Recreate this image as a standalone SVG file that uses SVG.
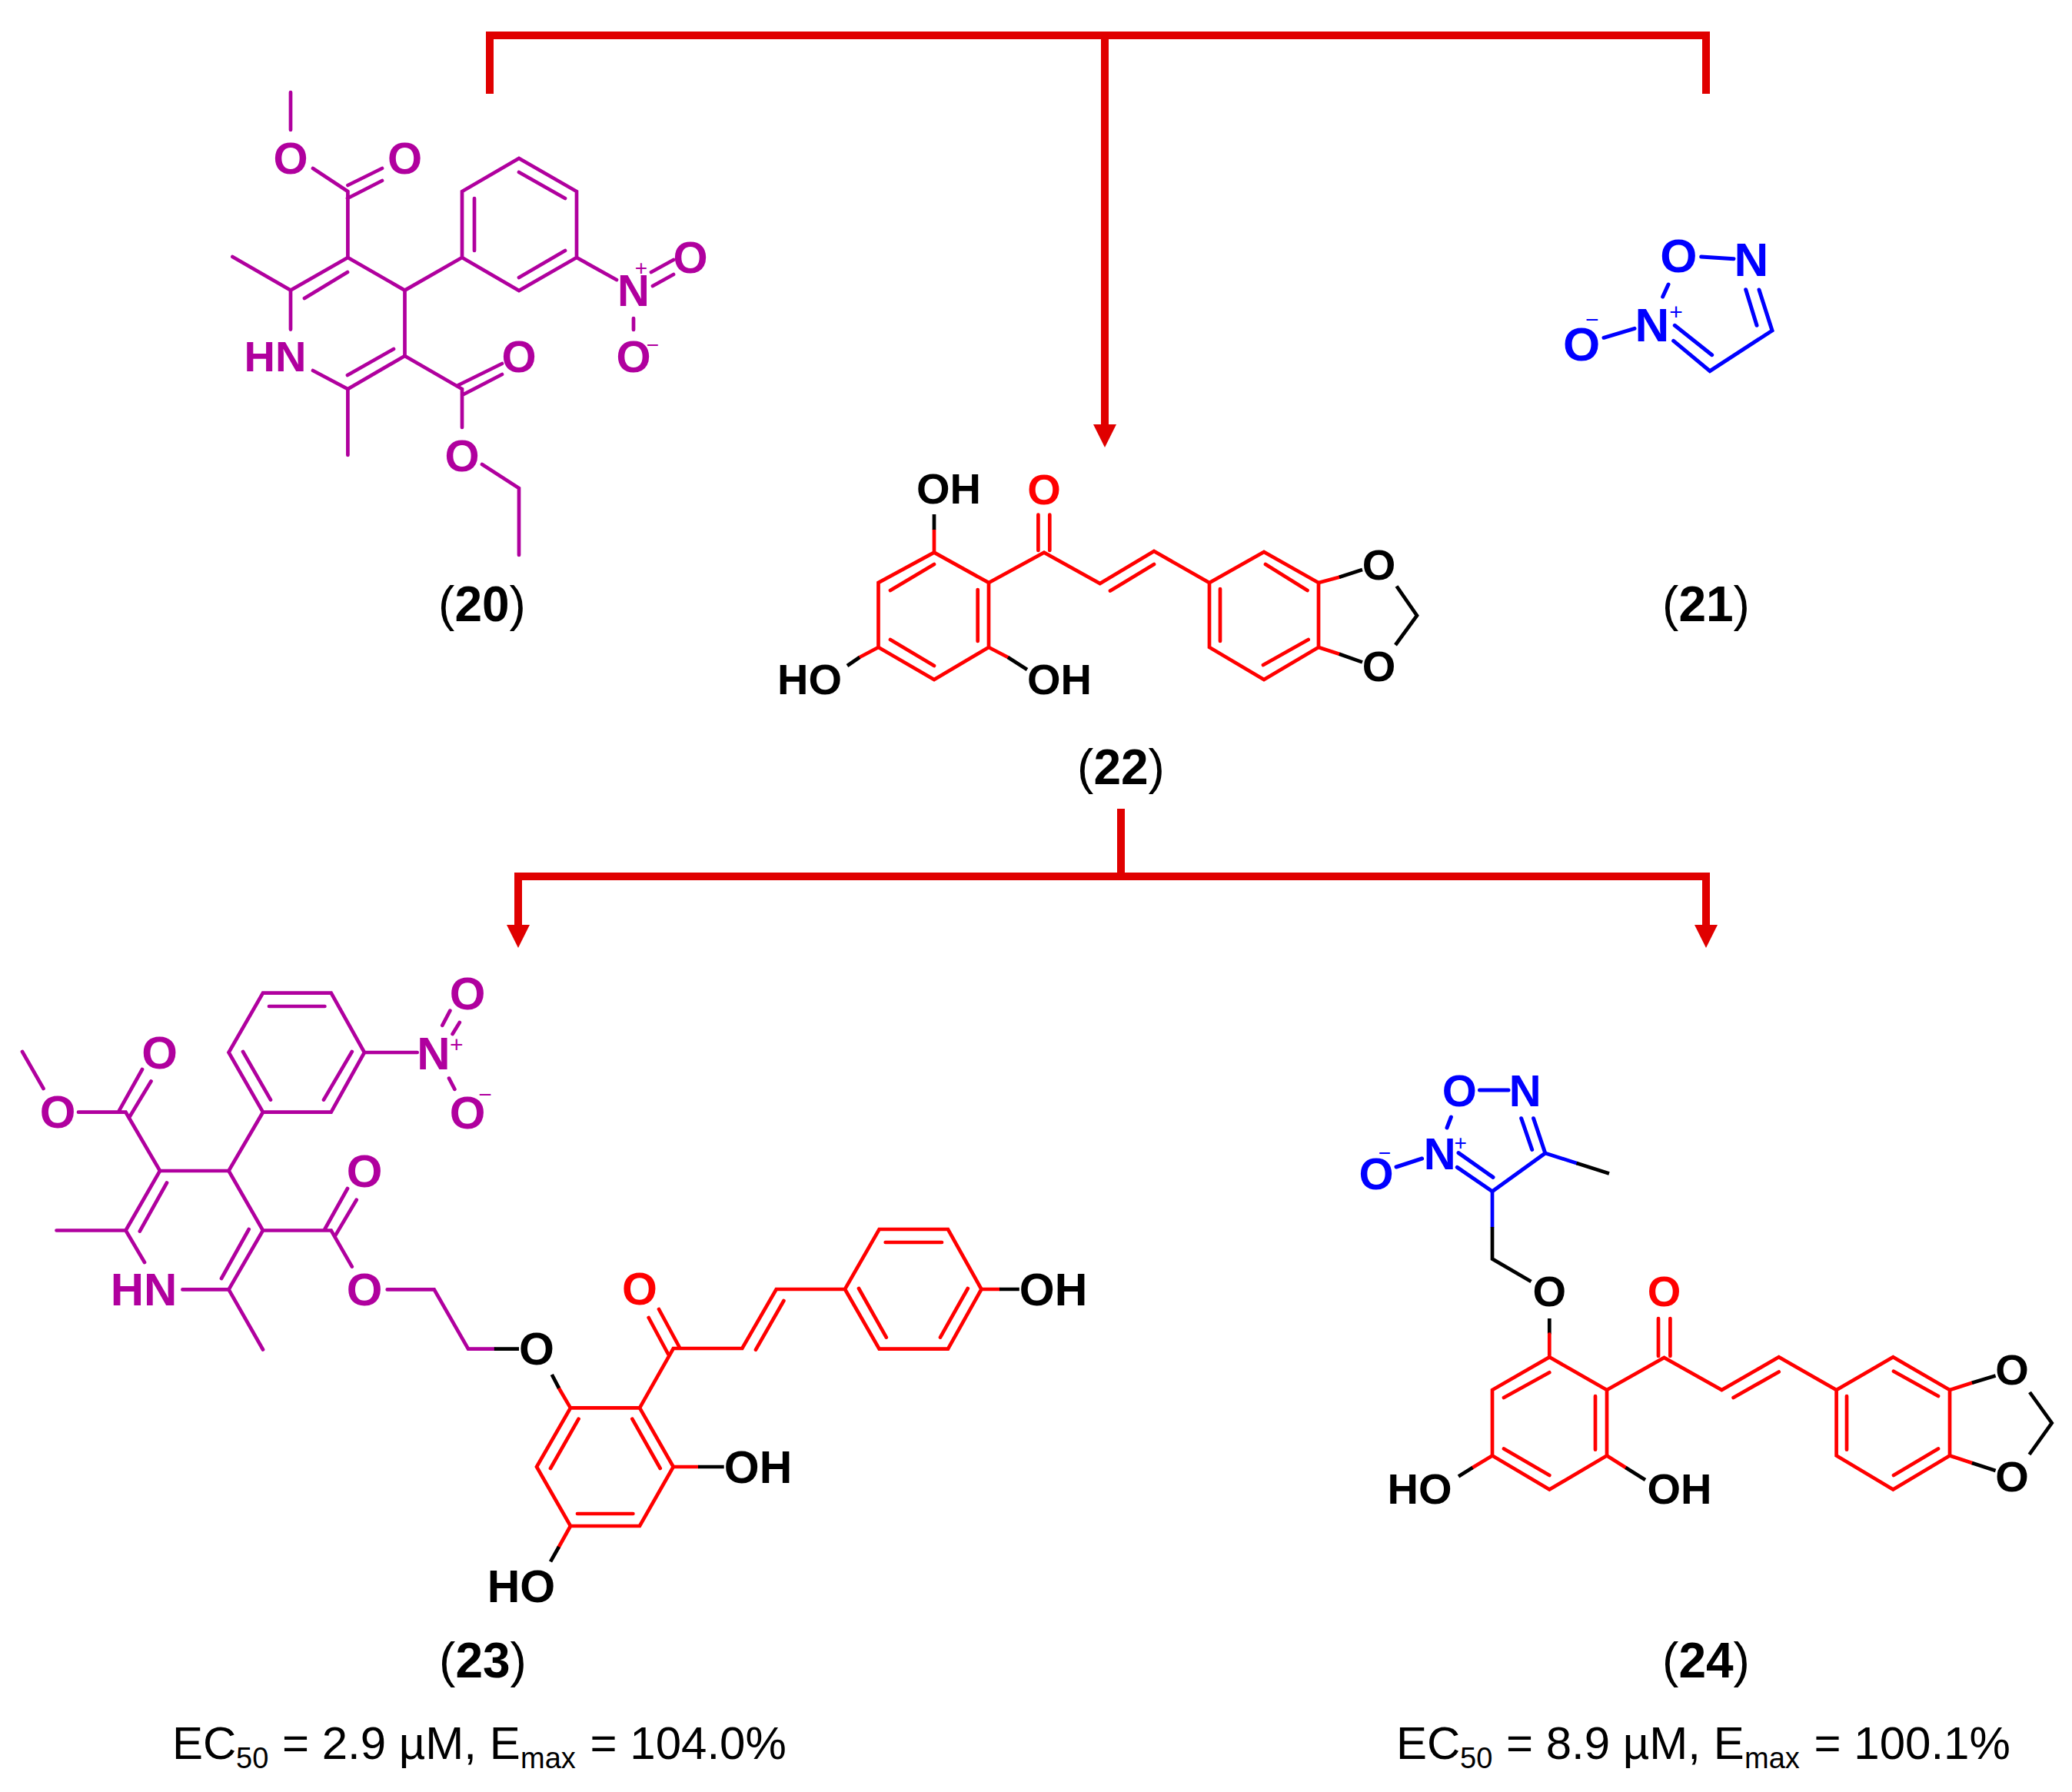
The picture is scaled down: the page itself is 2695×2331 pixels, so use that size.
<svg xmlns="http://www.w3.org/2000/svg" width="2695" height="2331" viewBox="0 0 2695 2331">
<style>
text{font-family:"Liberation Sans",Arial,sans-serif;text-anchor:middle}
.a{font-weight:700}
.s{text-anchor:start}
.b{fill:none;stroke-linejoin:miter;stroke-linecap:round}
.pu .b{stroke:#B0009E;stroke-width:4.7}
.pu text{fill:#B0009E}
.bl .b{stroke:#0000FF;stroke-width:5}
.bl text{fill:#0000FF}
.rd{fill:none;stroke:#FF0000;stroke-width:4.7;stroke-linejoin:miter;stroke-linecap:round}
.bk{fill:none;stroke:#000;stroke-width:4.7;stroke-linecap:butt}
.bb{fill:none;stroke:#0000FF;stroke-width:4.7;stroke-linejoin:miter;stroke-linecap:round}
.ar{fill:none;stroke:#E00000;stroke-width:10;stroke-linejoin:miter}
.t60{font-size:60px}
text.t64{font-size:64px;fill:#000}
.t38{font-size:38px}
</style>
<defs>
<marker id="head" markerUnits="userSpaceOnUse" markerWidth="32" markerHeight="32" refX="0" refY="15" orient="auto" viewBox="0 0 32 30">
<path d="M0 0L30 15L0 30Z" fill="#E00000"/>
</marker>
</defs>

<g id="connectors">
<path class="ar" d="M637 122V46H2219V122"/>
<path class="ar" d="M1437 46V552" marker-end="url(#head)"/>
<path class="ar" d="M1458 1052V1140"/>
<path class="ar" d="M674 1140H2219"/>
<path class="ar" d="M674 1135V1203" marker-end="url(#head)"/>
<path class="ar" d="M2219 1135V1203" marker-end="url(#head)"/>
</g>

<g id="compound-20" class="pu">
<path class="b" d="M378 120V169M407 219L452.4 249M452.4 249V335M452.4 241L497 219M452 258L497 235"/>
<path class="b" d="M452.4 335L378 377.6L302.4 334M378 377.6V428.6M452.4 335L526.5 377.6V463L452.4 506L407 482M396 388L452 354M452 488L512 454"/>
<path class="b" d="M526.5 463L601 506V556M594 502L653 473M601 514L653 487M627 604L675 635V722M452.4 506V592"/>
<path class="b" d="M526.5 377.6L601 335V249L675 206L750 249V335L675 378L601 335M617 258V326M675 224L735 258M675 361L735 326"/>
<path class="b" d="M750 335L802 364M847 354L876 338M849 372L876 357M824 414V429"/>
<g class="a" font-size="58">
<text x="378" y="226">O</text><text x="526.5" y="226">O</text>
<text x="358" y="483" font-size="56">HN</text>
<text x="824" y="398">N</text><text x="898" y="355">O</text><text x="824" y="484">O</text>
<text x="675" y="484">O</text><text x="601" y="613">O</text>
<text x="834" y="358" font-size="28" font-weight="400">+</text>
<text x="849" y="458" font-size="28" font-weight="400">−</text>
</g>
<text class="t64" x="627" y="808">(<tspan class="a">20</tspan>)</text>
</g>

<g id="compound-21" class="bl">
<path class="b" d="M2212.7 334L2255 336.7M2170 370L2162.7 386M2086 439.3L2126 427.3"/>
<path class="b" d="M2176.7 443.3L2224 482.7L2305 430L2288 377M2178.3 423.3L2226.7 461.7M2270.7 376.7L2285 423.3"/>
<g class="a" font-size="62">
<text x="2183.3" y="354">O</text><text x="2278" y="359">N</text>
<text x="2149" y="444">N</text><text x="2057" y="469">O</text>
<text x="2180" y="416" font-size="30" font-weight="400">+</text>
<text x="2070.7" y="426" font-size="30" font-weight="400">−</text>
</g>
<text class="t64" x="2219" y="808">(<tspan class="a">21</tspan>)</text>
</g>

<g id="compound-22">
<path class="rd" d="M1215 718.6V689M1215 718.6L1142.5 758V842L1215 884L1286 842V758L1215 718.6M1158 768L1215 734M1271.7 767V834M1158 832L1215 866"/>
<path class="rd" d="M1286 758L1358 718.6L1430.7 759L1501 717L1573 758L1644 718L1715 758V842L1644 884L1573 842V758M1350.4 716V669.6M1365.3 716V669.6M1444 768.6L1501 734M1587 766V834M1646 734L1700.5 768M1643 865L1701.7 832"/>
<path class="rd" d="M1142.5 842L1118 855M1286 842L1311 855M1715 758L1742 750.7M1715 842L1742 850.7"/>
<path class="bk" d="M1215 689V669M1118 855L1102 866M1311 855L1336 871M1742 750.7L1772 741M1742 850.7L1772 861.4M1816.5 762.5L1843 800.7L1815 839"/>
<g class="a" font-size="56">
<text x="1234" y="655">OH</text><text x="1358" y="656" fill="#FF0000">O</text>
<text x="1053" y="903">HO</text><text x="1378" y="903">OH</text>
<text x="1793.5" y="754">O</text><text x="1793.5" y="886">O</text>
</g>
<text class="t64" x="1458" y="1019.5">(<tspan class="a">22</tspan>)</text>
</g>

<g id="compound-23">
<g class="pu">
<path class="b" d="M29 1368L56.5 1416M102 1446.7H163.5L208 1523H297.5L342 1446.7L430.7 1446.7L474 1369L430.7 1291.7H342L297.5 1369L342 1446.7M155 1444.7L185 1391M169 1452L196.5 1406.5"/>
<path class="b" d="M350 1309H422.4M316 1368L352 1430.6M457.8 1368L421 1430.6M474 1369H542.7M585.4 1314.6L575.3 1333.8M597.8 1330L588.6 1345M584 1402.6L591.4 1416.8"/>
<path class="b" d="M208 1523L163.5 1600.5L188 1642M217 1538.5L181.8 1601.6M163.5 1600.5H73.5M237.4 1677.4H297.5L342 1600.5L297.5 1523M323.7 1599L288 1663M297.5 1677.4L342 1755.5M342 1600.5H430.7L457.8 1647.6M422.4 1599L452 1546M436 1607.4L463.7 1560.7"/>
<path class="b" d="M503.7 1677.4H564.7L609 1754.7H642.8"/>
<g class="a" font-size="60">
<text x="75" y="1467">O</text><text x="207.5" y="1390">O</text>
<text x="564" y="1391">N</text><text x="608" y="1313">O</text><text x="608" y="1468">O</text>
<text x="187" y="1698">HN</text><text x="474" y="1544">O</text><text x="474" y="1698">O</text>
<text x="593.7" y="1369" font-size="30" font-weight="400">+</text>
<text x="631" y="1434" font-size="30" font-weight="400">−</text>
</g>
</g>
<path class="rd" d="M742 1831.4H832L875.8 1908L832 1985H742L698 1908L742 1831.4L727 1805.7M752.6 1845.7L716 1910M822.3 1845.7L858.7 1910M751 1969H823.4"/>
<path class="rd" d="M832 1831.4L875.8 1754H965.3L1009.7 1677H1099L1143.6 1599H1233L1276.5 1677L1233 1754.6H1143.6L1099 1677M843.7 1714L869.4 1762M857 1703L884 1753M1019.4 1692L983 1755.7M1151.7 1616H1225M1117 1676L1152.8 1739.6M1258.8 1676L1223 1739.6"/>
<path class="rd" d="M1276.5 1677H1300M875.8 1908H908M742 1985L727 2012"/>
<path class="bk" d="M642.8 1754.7H675M717.8 1788L727 1805.7M1300 1677H1325.8M908 1908H941.7M727 2012L716 2031.4"/>
<g class="a" font-size="59">
<text x="698" y="1775">O</text><text x="832" y="1697" fill="#FF0000">O</text>
<text x="1370" y="1698">OH</text><text x="986" y="1929">OH</text><text x="678" y="2084">HO</text>
</g>
<text class="t64" x="628" y="2181.7">(<tspan class="a">23</tspan>)</text>
<text class="t60 s" y="2288"><tspan x="224">EC</tspan><tspan class="t38" x="307" y="2300">50</tspan><tspan x="367" y="2288">= 2.9 µM, E</tspan><tspan class="t38" x="677" y="2300">max</tspan><tspan x="767.6" y="2288">= 104.0%</tspan></text>
</g>

<g id="compound-24">
<g class="bl">
<path class="b" d="M1924.5 1418H1962M1887.4 1453L1882 1467M1816 1518L1849.6 1507"/>
<path class="b" d="M1895.3 1518.4L1941 1549.8L2009.8 1500L1994.6 1454.7M1897 1499.6L1942 1531.4M1978.7 1454.7L1992.7 1495.5"/>
<g class="a" font-size="58">
<text x="1898.3" y="1439">O</text><text x="1983.6" y="1439">N</text>
<text x="1872.8" y="1521">N</text><text x="1790" y="1547">O</text>
<text x="1899.6" y="1496" font-size="28" font-weight="400">+</text>
<text x="1801" y="1509" font-size="28" font-weight="400">−</text>
</g>
</g>
<path class="bb" d="M2009.8 1500L2050.6 1513M1941 1549.8V1596"/>
<path class="bk" d="M2050.6 1513L2093 1526.5M1941 1596V1637.6L1991.5 1667M2015.3 1715V1735.5"/>
<path class="rd" d="M2015.3 1735.5V1765.3L1941 1808V1893.5L2015.3 1937.6L2090 1893.5V1808L2015.3 1765.3M1956 1818L2015.3 1785.3M2075 1816V1885.7M1956 1884.5L2015.3 1919"/>
<path class="rd" d="M2090 1808L2164.5 1766L2239.4 1808L2313.7 1765.3L2388.6 1808L2462.3 1765.3L2536 1808V1893.5L2462.3 1937.6L2388.6 1893.5V1808M2157 1764V1715M2172.4 1764V1715M2254.6 1818L2313.7 1784.5M2402 1816V1885.7M2463 1783.7L2521 1816M2463 1919L2521 1884.5"/>
<path class="rd" d="M2536 1808L2565 1798.8M2536 1893.5L2565 1903M1941 1893.5L1915.4 1909M2090 1893.5L2114.5 1909"/>
<path class="bk" d="M2565 1798.8L2595.6 1789.4M2565 1903L2595.6 1913M1915.4 1909L1897 1920.4M2114.5 1909L2140 1925M2640 1811L2668.7 1851L2639.5 1892"/>
<g class="a" font-size="56">
<text x="2015.3" y="1699">O</text><text x="2164.5" y="1699" fill="#FF0000">O</text>
<text x="2617" y="1801">O</text><text x="2617" y="1940">O</text>
<text x="1846.5" y="1956">HO</text><text x="2184.5" y="1956">OH</text>
</g>
<text class="t64" x="2219" y="2181.7">(<tspan class="a">24</tspan>)</text>
<text class="t60 s" y="2288"><tspan x="1816">EC</tspan><tspan class="t38" x="1899" y="2300">50</tspan><tspan x="1959" y="2288">= 8.9 µM, E</tspan><tspan class="t38" x="2269" y="2300">max</tspan><tspan x="2359.6" y="2288">= 100.1%</tspan></text>
</g>
</svg>
